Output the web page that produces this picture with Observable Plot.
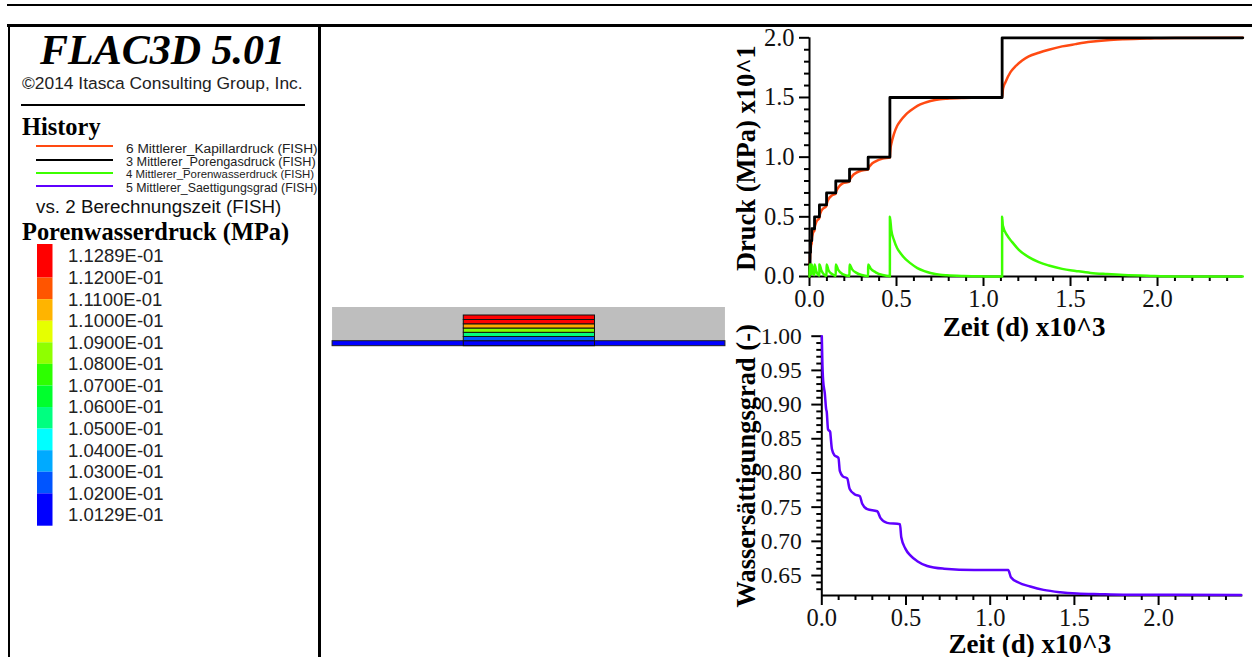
<!DOCTYPE html>
<html lang="de">
<head>
<meta charset="utf-8">
<script src="https://cdn.jsdelivr.net/npm/d3@7"></script>
<script src="https://cdn.jsdelivr.net/npm/@observablehq/plot@0.6"></script>
<style>
html,body{margin:0;padding:0;background:#fff;width:1252px;height:657px;overflow:hidden}
#root{position:relative;width:1252px;height:657px;overflow:hidden;background:#fff}
#root svg{position:absolute;overflow:visible;background:transparent;max-width:none}
.t{position:absolute;white-space:nowrap;color:#000;line-height:1}
.r{position:absolute;background:#000}
</style>
</head>
<body>
<div id="root"></div>
<script>
// ---------- Colours / labels ----------
const ORANGE = "#ff4a12", BLACK = "#000000", GREEN = "#3cff00", PURPLE = "#5f00ff";
const historyNames = ["6 Mittlerer_Kapillardruck (FISH)", "3 Mittlerer_Porengasdruck (FISH)", "4 Mittlerer_Porenwasserdruck (FISH)", "5 Mittlerer_Saettigungsgrad (FISH)"];
const historyColors = [ORANGE, BLACK, GREEN, PURPLE];
const contourLabels = ["1.1289E-01","1.1200E-01","1.1100E-01","1.1000E-01","1.0900E-01","1.0800E-01","1.0700E-01","1.0600E-01","1.0500E-01","1.0400E-01","1.0300E-01","1.0200E-01","1.0129E-01"];
const contourColors = ["#ff0000","#ff5500","#ffb400","#e6ff00","#8fff00","#2dff00","#00ff2d","#00ff80","#00ffff","#00aaff","#0055ff","#0000ff"];

// ---------- History: time in 10^3 d ----------
const gasT = [0,.001,.003,.006,.013,.029,.057,.098,.151,.23,.337,.462,1.107,2.49];
const gasP = [0,.1,.2,.3,.4,.5,.6,.7,.8,.9,1.0,1.5,2.0,2.0];

const waterT = [0,.001,.002,.003,.0045,.006,.009,.0129,.013,.02,.0289,.029,.04,.0569,.057,.07,.0979,.098,.11,.13,.1509,.151,.165,.19,.2299,.23,.245,.27,.3,.3369,.337,.352,.38,.42,.4619,
  .462,.47,.485,.504,.523,.552,.581,.62,.66,.695,.75,.79,.887,1.0,1.1069,
  1.107,1.111,1.136,1.165,1.203,1.26,1.318,1.375,1.452,1.529,1.615,1.71,1.806,1.96,2.1,2.49];
const waterP = [0,.1,.05,.1,.04,.1,.04,.02,.1,.035,.012,.1,.04,.008,.1,.045,.006,.1,.05,.02,.005,.1,.055,.02,.004,.1,.06,.03,.012,.003,.1,.065,.035,.012,.003,
  .5,.39,.307,.237,.195,.145,.11,.07,.045,.03,.015,.01,.004,.001,0,
  .5,.427,.344,.288,.224,.162,.12,.092,.064,.047,.03,.02,.012,.005,.001,0];

const capT = [0,.001,.002,.003,.0045,.006,.009,.0129,.013,.02,.0289,.029,.04,.0569,.057,.07,.0979,.098,.11,.13,.1509,.151,.165,.19,.2299,.23,.245,.27,.3,.3369,.337,.352,.38,.42,.4619,
  .462,.466,.47,.485,.504,.523,.552,.581,.62,.66,.695,.75,.79,.887,1.0,
  1.107,1.112,1.126,1.155,1.183,1.222,1.26,1.318,1.375,1.452,1.529,1.615,1.71,1.806,1.96,2.1,2.49];
const capP = [0,.05,.13,.15,.2,.22,.26,.28,.3,.365,.388,.4,.46,.492,.5,.555,.594,.6,.65,.68,.695,.7,.745,.78,.796,.8,.84,.87,.888,.897,.9,.935,.965,.988,.997,
  1.0,1.08,1.11,1.193,1.263,1.305,1.355,1.39,1.43,1.455,1.47,1.485,1.49,1.496,1.499,
  1.5,1.573,1.628,1.712,1.76,1.81,1.844,1.875,1.9,1.928,1.947,1.966,1.98,1.988,1.995,1.999,2.0];

const satT = [0,.001,.003,.008,.018,.026,.029,.037,.05,.052,.06,.075,.099,.107,.125,.151,.165,.194,.226,.24,.27,.329,.349,.388,.464,.472,.497,.527,.567,.626,.726,.905,1.107,1.123,1.168,1.238,1.317,1.416,1.515,1.653,1.79,2.49];
const satS = [1.0,.99,.966,.935,.916,.893,.89,.864,.86,.855,.835,.826,.822,.803,.795,.792,.777,.769,.766,.755,.747,.744,.734,.727,.725,.706,.689,.679,.671,.664,.66,.658,.658,.6476,.6398,.634,.629,.6256,.6237,.6227,.622,.6217];

// ---------- Ticks ----------
const topXMajor = [0,.5,1,1.5,2];
const topXMinor = [.1,.2,.3,.4,.6,.7,.8,.9,1.1,1.2,1.3,1.4,1.6,1.7,1.8,1.9,2.1,2.2,2.3,2.4];
const topYMajor = [0,.5,1,1.5,2];
const topYMinor = [.1,.2,.3,.4,.6,.7,.8,.9,1.1,1.2,1.3,1.4,1.6,1.7,1.8,1.9];
const botYMajor = [.65,.7,.75,.8,.85,.9,.95,1.0];
const botYMinor = [.63,.64,.66,.67,.68,.69,.71,.72,.73,.74,.76,.77,.78,.79,.81,.82,.83,.84,.86,.87,.88,.89,.91,.92,.93,.94,.96,.97,.98,.99];

// ---------- Model section (x, z in model units) ----------
const sectionWidth = 100, sectionHeight = 10;
const blockX = [33.4, 66.8];
const layerZ = [0, 1.29, 2.38, 3.46, 4.57, 5.66, 6.77, 7.93];
const layerColors = ["#0000ff","#0055ff","#00ff80","#80ff00","#ffaa00","#ff0000","#ff0000"];

const root = document.getElementById("root");
const SERIF = "'Liberation Serif','Times New Roman',serif";
const SANS = "'Liberation Sans',Arial,sans-serif";
const INK = "#111";

function place(svg, left, top) {
  svg.style.left = left + "px";
  svg.style.top = top + "px";
  root.appendChild(svg);
}
function text(str, left, top, css) {
  const d = document.createElement("div");
  d.className = "t";
  d.textContent = str;
  d.style.left = left + "px";
  d.style.top = top + "px";
  Object.assign(d.style, css);
  root.appendChild(d);
  return d;
}
function rule(left, top, w, h, color) {
  const d = document.createElement("div");
  d.className = "r";
  Object.assign(d.style, {left: left+"px", top: top+"px", width: w+"px", height: h+"px"});
  if (color) d.style.background = color;
  root.appendChild(d);
}

// ---------- Frame ----------
rule(7, 4, 1245, 2);
rule(7, 24, 1245, 2.5);
rule(7.5, 24, 2.5, 633);
rule(318, 24, 2.5, 633);
rule(21, 103.5, 284, 2);

// ---------- Left panel text ----------
text("FLAC3D 5.01", 40, 25.5, {font:`italic bold 42px ${SERIF}`});
text("©2014 Itasca Consulting Group, Inc.", 22, 72.5, {font:`17.4px ${SANS}`, color:"#222"});
text("History", 22, 112.5, {font:`bold 24.4px ${SERIF}`});
const legendY = [146, 160, 173, 186];
const legendSize = [13.7, 12.7, 11.4, 12.35];
historyNames.forEach((n, i) => {
  rule(36, legendY[i]-1.2, 77, 2.5, historyColors[i]);
  text(n, 126, legendY[i]-5.5, {font:`${legendSize[i]}px ${SANS}`, color:"#222"});
});
text("vs. 2 Berechnungszeit (FISH)", 36, 195.5, {font:`18.8px ${SANS}`, color:"#111"});
text("Porenwasserdruck (MPa)", 22, 217.5, {font:`bold 24.4px ${SERIF}`});

// ---------- Contour colour legend ----------
const contourIdx = contourColors.map((_, i) => i);
place(Plot.plot({
  width: 170, height: 300, marginLeft: 0, marginRight: 0, marginTop: 0, marginBottom: 0,
  x: {domain: [0, 170], axis: null},
  y: {domain: [-0.556, 12.5], range: [4, 285.7], axis: null},
  marks: [
    Plot.rect(contourIdx, {
      x1: () => 7, x2: () => 22.5,
      y1: i => i === 0 ? -0.556 : i,
      y2: i => i === contourColors.length - 1 ? 12.5 : i + 1,
      fill: i => contourColors[i]
    }),
    Plot.text(contourLabels, {
      x: () => 37.5, y: (d, i) => i, text: d => d, textAnchor: "start",
      fontSize: 18.5, fontFamily: SANS, fill: "#222"
    })
  ]
}), 30, 240);

// ---------- Section view ----------
const layerIdx = layerColors.map((_, i) => i);
place(Plot.plot({
  width: 393, height: 38.7, marginLeft: 0, marginRight: 0, marginTop: 0, marginBottom: 0,
  x: {domain: [0, sectionWidth], axis: null},
  y: {domain: [0, sectionHeight], axis: null},
  marks: [
    Plot.rect([0], {x1: () => 0, x2: () => sectionWidth, y1: () => 0, y2: () => sectionHeight, fill: "#bebebe"}),
    Plot.rect([0], {x1: () => 0, x2: () => sectionWidth, y1: () => 0, y2: () => layerZ[1], fill: "#0000ff", stroke: "#222", strokeWidth: 1}),
    Plot.rect(layerIdx, {
      x1: () => blockX[0], x2: () => blockX[1],
      y1: i => layerZ[i], y2: i => layerZ[i + 1],
      fill: i => layerColors[i], stroke: "#111", strokeWidth: 1
    })
  ]
}), 332, 307);

// ---------- Common axis helpers ----------
const fmt1 = d3.format(".1f"), fmt2 = d3.format(".2f");
const tickStyle = {stroke: "#000", strokeWidth: 2, fontFamily: SERIF, fontSize: 24.5, label: null};
const titleStyle = {fontFamily: SERIF, fontWeight: "bold", fontSize: 27, fill: "#000", textAnchor: "middle"};
const yTitleStyle = {...titleStyle, fontSize: 26.5};

// ---------- Top chart: pressures ----------
place(Plot.plot({
  width: 522, height: 320, marginLeft: 79, marginRight: 9.7, marginTop: 12.3, marginBottom: 69,
  x: {domain: [0, 2.49], axis: null},
  y: {domain: [0, 2], axis: null},
  marks: [
    Plot.ruleY([0], {x1: 0, x2: 2.49, stroke: "#000", strokeWidth: 2}),
    Plot.ruleX([0], {y1: 0, y2: 2, stroke: "#000", strokeWidth: 2}),
    Plot.axisX({...tickStyle, fill: INK, ticks: topXMajor, tickSize: 10, tickPadding: 3, tickFormat: fmt1}),
    Plot.axisX({...tickStyle, fill: "none", ticks: topXMinor, tickSize: 5}),
    Plot.axisY({...tickStyle, fill: INK, ticks: topYMajor, tickSize: 10, tickPadding: 5, tickFormat: fmt1}),
    Plot.axisY({...tickStyle, fill: "none", ticks: topYMinor, tickSize: 5}),
    Plot.line(capT, {x: d => d, y: (d, i) => capP[i], stroke: ORANGE, strokeWidth: 2.5, curve: "monotone-x"}),
    Plot.line(gasT, {x: d => d, y: (d, i) => gasP[i], stroke: BLACK, strokeWidth: 2.8, curve: "step-after"}),
    Plot.line(waterT, {x: d => d, y: (d, i) => waterP[i], stroke: GREEN, strokeWidth: 2.5, curve: "monotone-x"}),
    Plot.text(["Zeit (d) x10^3"], {...titleStyle, frameAnchor: "bottom", dy: 59, dx: -2}),
    Plot.text(["Druck (MPa) x10^1"], {...yTitleStyle, frameAnchor: "left", dx: -63, dy: 1, rotate: -90})
  ]
}), 730, 25);

// ---------- Bottom chart: saturation ----------
place(Plot.plot({
  width: 522, height: 337, marginLeft: 91.3, marginRight: 9.7, marginTop: 15.7, marginBottom: 62,
  x: {domain: [0, 2.5], axis: null},
  y: {domain: [0.6208, 1], axis: null},
  marks: [
    Plot.ruleY([0.6208], {x1: 0, x2: 2.5, stroke: "#000", strokeWidth: 2}),
    Plot.ruleX([0], {y1: 0.6208, y2: 1, stroke: "#000", strokeWidth: 2}),
    Plot.axisX({...tickStyle, fill: INK, ticks: topXMajor, tickSize: 10, tickPadding: 3, tickFormat: fmt1, anchor: "bottom"}),
    Plot.axisX({...tickStyle, fill: "none", ticks: topXMinor, tickSize: 5, anchor: "bottom"}),
    Plot.axisY({...tickStyle, fontSize: 23.5, fill: INK, ticks: botYMajor, tickSize: 10, tickPadding: 10, tickFormat: fmt2}),
    Plot.axisY({...tickStyle, fill: "none", ticks: botYMinor, tickSize: 5}),
    Plot.line(satT, {x: d => d, y: (d, i) => satS[i], stroke: PURPLE, strokeWidth: 2.5, curve: "monotone-x"}),
    Plot.text(["Zeit (d) x10^3"], {...titleStyle, frameAnchor: "bottom", dy: 57, dx: -2.5}),
    Plot.text(["Wassersättigungsgrad (-)"], {...yTitleStyle, frameAnchor: "left", dx: -75, rotate: -90})
  ]
}), 730, 320);
</script>
</body>
</html>
